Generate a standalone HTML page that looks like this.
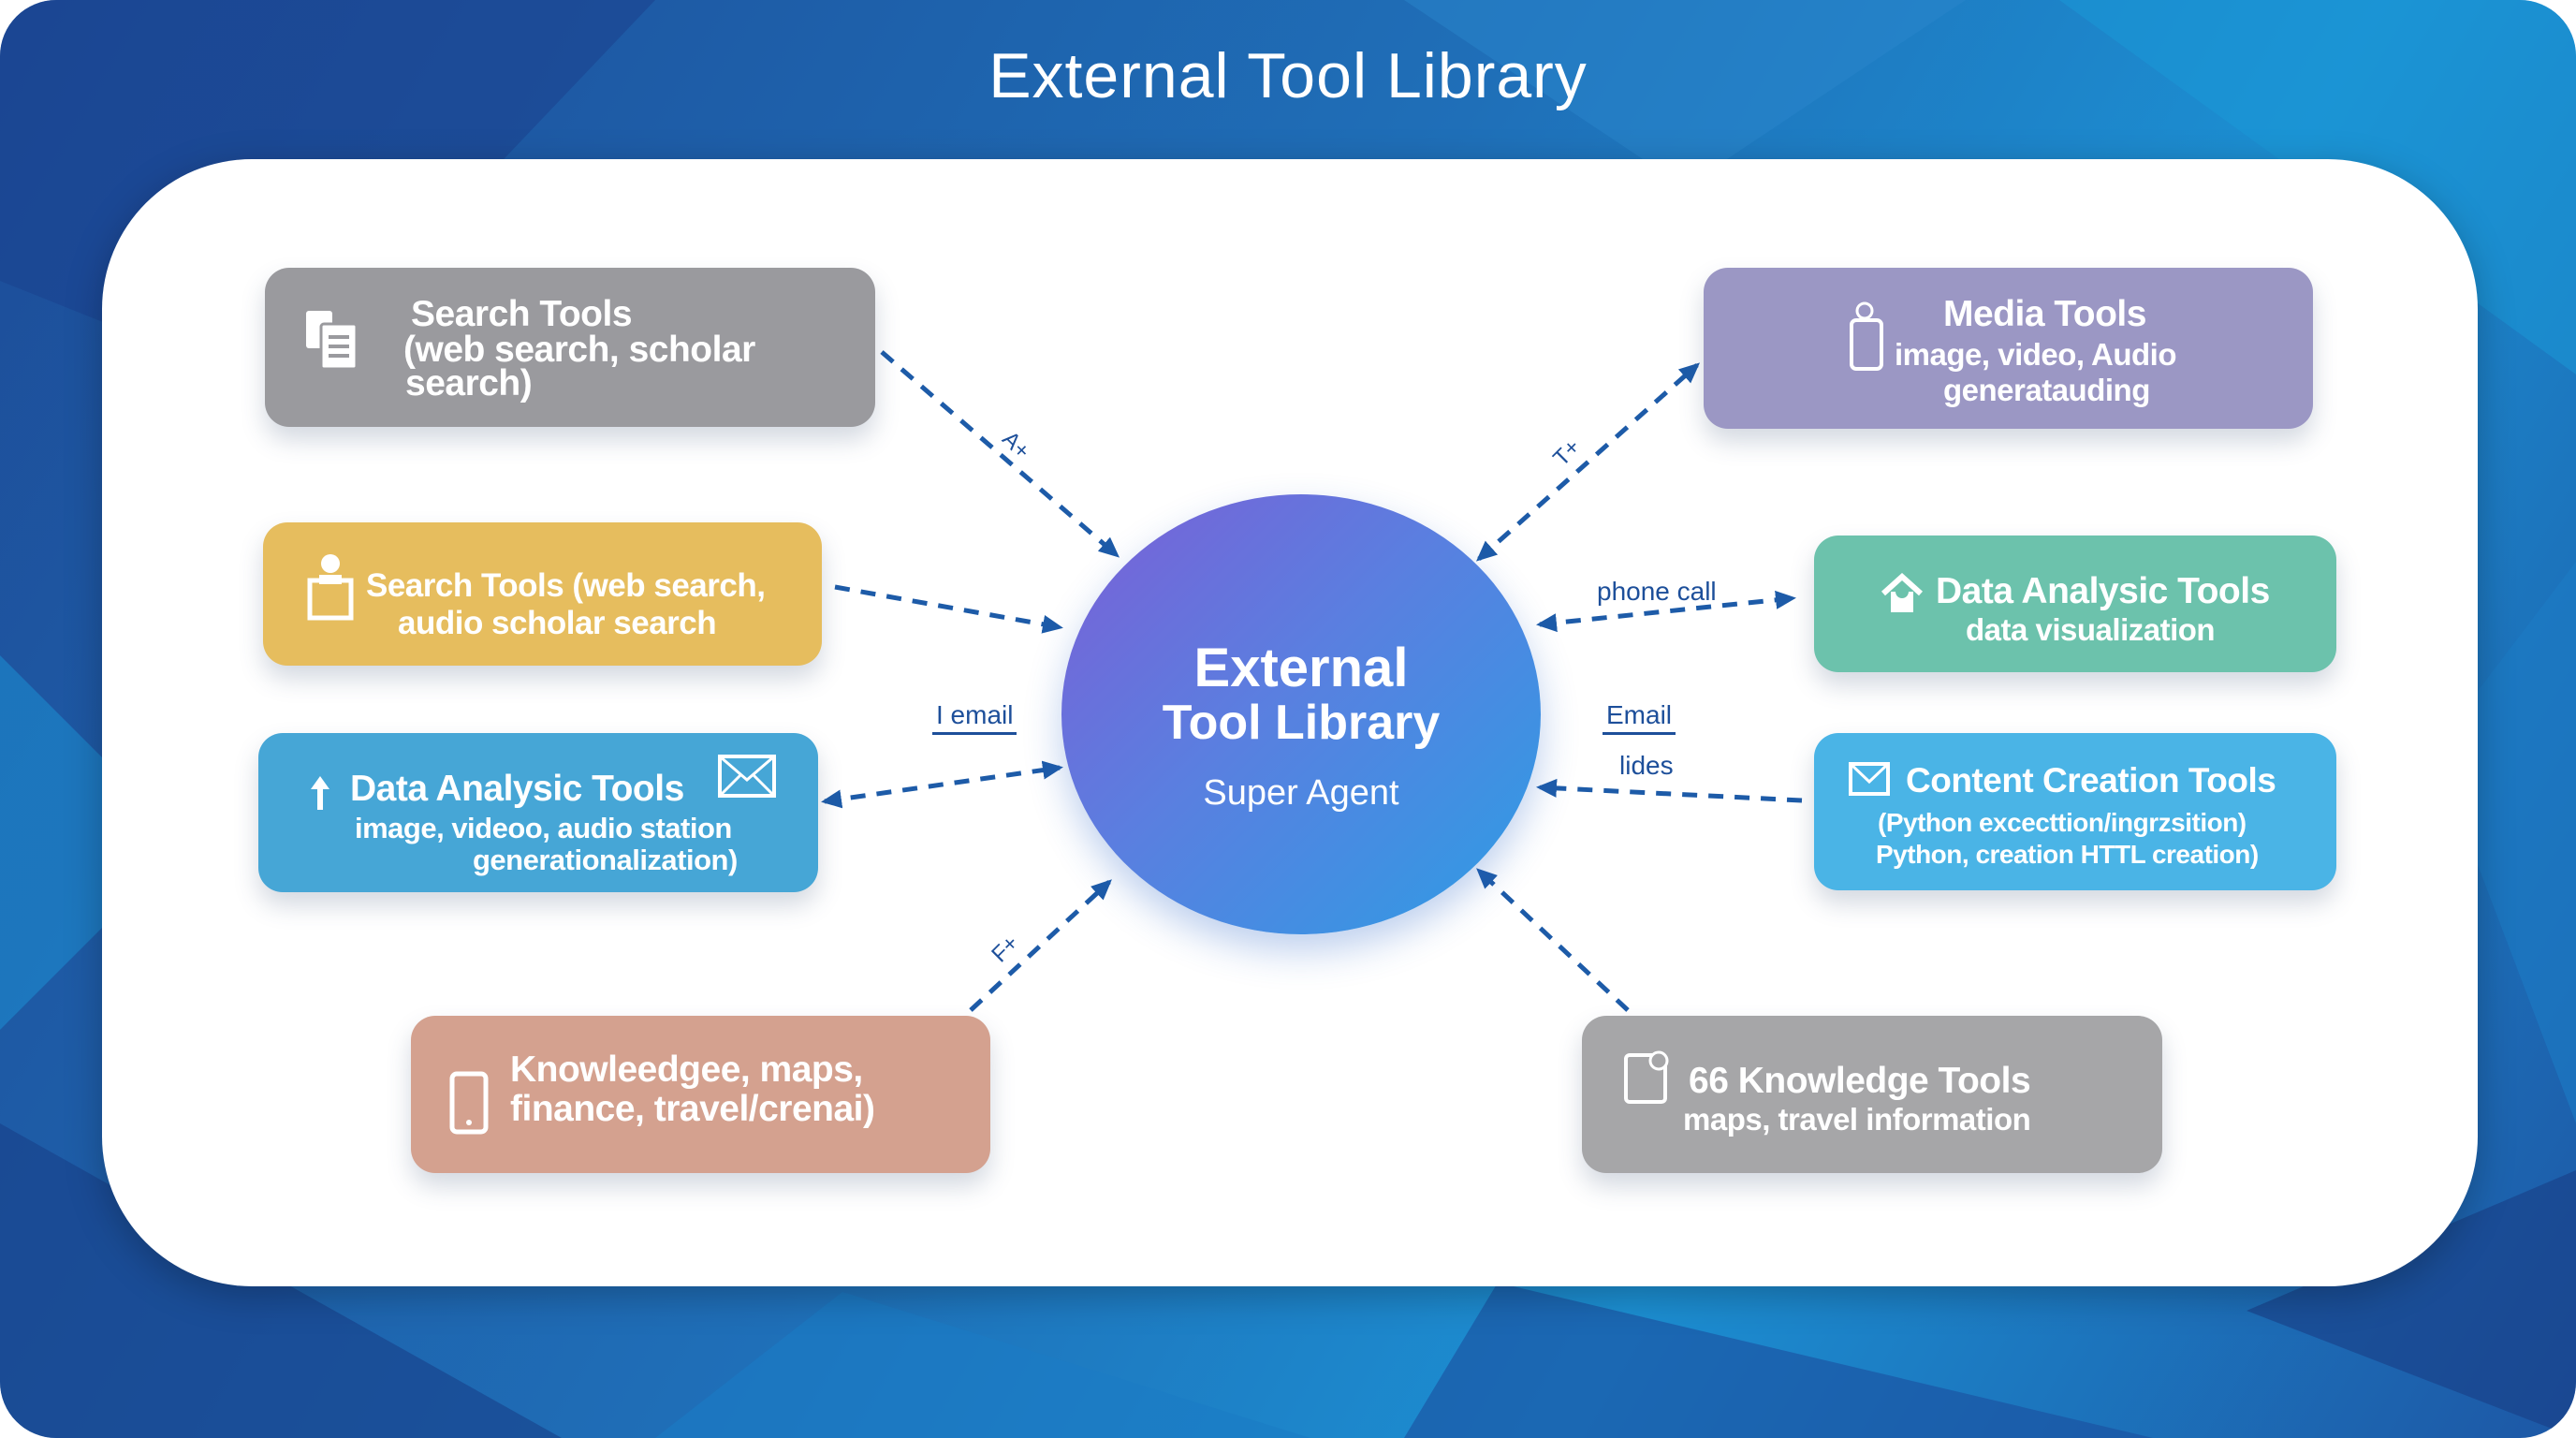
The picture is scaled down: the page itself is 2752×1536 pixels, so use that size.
<!DOCTYPE html>
<html><head><meta charset="utf-8">
<style>
html,body{margin:0;padding:0;}
body{width:2752px;height:1536px;position:relative;overflow:hidden;background:#fff;font-family:"Liberation Sans",sans-serif;}
#bg{position:absolute;left:0;top:0;width:2752px;height:1536px;border-radius:60px;overflow:hidden;background:linear-gradient(120deg,#1d4c98 0%,#1f6fb8 45%,#1c8fd2 70%,#1d57a5 100%);}
.title{position:absolute;left:0;width:2752px;top:42px;text-align:center;color:#fff;font-size:68px;font-weight:normal;letter-spacing:1px;}
.panel{position:absolute;left:109px;top:170px;width:2538px;height:1204px;background:#fff;border-radius:160px;box-shadow:0 10px 40px rgba(0,0,0,.25);}
.box{position:absolute;border-radius:26px;color:#fff;box-shadow:0 14px 26px rgba(60,80,120,.22);font-weight:bold;letter-spacing:-0.5px;}
.t{position:absolute;white-space:nowrap;}
.big{font-size:39px;}
.sm{font-size:33px;}
.circle{position:absolute;left:1134px;top:528px;width:512px;height:470px;border-radius:50%;background:linear-gradient(135deg,#7b5fd6 0%,#5a7fe0 45%,#2d9de4 100%);box-shadow:0 18px 40px rgba(40,100,200,.3);color:#fff;text-align:center;}
.lbl{position:absolute;color:#1d4f9a;font-size:28px;white-space:nowrap;}
</style></head><body>
<div id="bg">
<svg width="2752" height="1536" style="position:absolute;left:0;top:0">
<polygon points="0,0 700,0 300,420 0,300" fill="#1a4390" opacity=".6"/>
<polygon points="1500,0 2100,0 1800,200" fill="#2a86cc" opacity=".5"/>
<polygon points="2200,0 2752,0 2752,400" fill="#1a9ad8" opacity=".5"/>
<polygon points="0,700 200,900 0,1100" fill="#1c8bcf" opacity=".6"/>
<polygon points="0,1200 600,1536 0,1536" fill="#173f88" opacity=".6"/>
<polygon points="900,1380 1400,1536 700,1536" fill="#1b7cc4" opacity=".6"/>
<polygon points="1600,1370 2300,1536 1500,1536" fill="#1a4f9e" opacity=".6"/>
<polygon points="2600,800 2752,600 2752,1200" fill="#1c7cc4" opacity=".6"/>
<polygon points="2400,1400 2752,1250 2752,1536" fill="#193e86" opacity=".6"/>
</svg>
</div>
<div class="title">External Tool Library</div>
<div class="panel"></div>

<svg width="2752" height="1536" style="position:absolute;left:0;top:0">
<defs>
<marker id="a" markerWidth="24" markerHeight="24" refX="18" refY="12" orient="auto-start-reverse" markerUnits="userSpaceOnUse" viewBox="0 0 24 24"><path d="M0,2 L22,12 L0,22 z" fill="#1d5ba8"/></marker>
</defs>
<g stroke="#1d5ba8" stroke-width="5" stroke-dasharray="16,12" fill="none">
<line x1="942" y1="376" x2="1193" y2="593" marker-end="url(#a)"/>
<line x1="892" y1="627" x2="1132" y2="670" marker-end="url(#a)"/>
<line x1="881" y1="856" x2="1132" y2="820" marker-end="url(#a)" marker-start="url(#a)"/>
<line x1="1037" y1="1079" x2="1185" y2="942" marker-end="url(#a)"/>
<line x1="1580" y1="597" x2="1813" y2="390" marker-end="url(#a)" marker-start="url(#a)"/>
<line x1="1645" y1="667" x2="1915" y2="639" marker-end="url(#a)" marker-start="url(#a)"/>
<line x1="1925" y1="855" x2="1645" y2="841" marker-end="url(#a)"/>
<line x1="1739" y1="1079" x2="1580" y2="930" marker-end="url(#a)"/>
</g>
</svg>

<div class="lbl" style="left:1070px;top:462px;transform:rotate(45deg);font-size:24px">A+</div>
<div class="lbl" style="left:1660px;top:470px;transform:rotate(-45deg);font-size:24px">T+</div>
<div class="lbl" style="left:1060px;top:1000px;transform:rotate(-45deg);font-size:24px">F+</div>
<div class="lbl" style="left:996px;top:748px;border-bottom:3px solid #1d4f9a;padding:0 4px 2px">I email</div>
<div class="lbl" style="left:1706px;top:616px">phone call</div>
<div class="lbl" style="left:1712px;top:748px;border-bottom:3px solid #1d4f9a;padding:0 4px 2px">Email</div>
<div class="lbl" style="left:1730px;top:802px">lides</div>

<div class="circle">
<div class="t" style="left:0;width:512px;top:152px;font-size:58px;font-weight:bold">External</div>
<div class="t" style="left:0;width:512px;top:214px;font-size:52px;font-weight:bold">Tool Library</div>
<div class="t" style="left:0;width:512px;top:298px;font-size:38px">Super Agent</div>
</div>

<!-- Box1 -->
<div class="box" style="left:283px;top:286px;width:652px;height:170px;background:#9a9a9e">
<svg style="position:absolute;left:42px;top:42px" width="60" height="70"><rect x="2" y="4" width="28" height="40" rx="3" fill="#fff"/><rect x="18" y="18" width="38" height="48" rx="3" fill="#fff" stroke="#9a9a9e" stroke-width="3"/><g stroke="#9a9a9e" stroke-width="4"><line x1="26" y1="32" x2="48" y2="32"/><line x1="26" y1="42" x2="48" y2="42"/><line x1="26" y1="52" x2="48" y2="52"/></g></svg>
<div class="t big" style="left:156px;top:28px">Search Tools</div>
<div class="t big" style="left:148px;top:66px">(web search, scholar</div>
<div class="t big" style="left:150px;top:102px">search)</div>
</div>
<!-- Box2 -->
<div class="box" style="left:281px;top:558px;width:597px;height:153px;background:#e6bd5e">
<svg style="position:absolute;left:42px;top:32px" width="60" height="80"><circle cx="30" cy="12" r="10" fill="#fff"/><path d="M8,30 L52,30 L52,70 L8,70 Z" fill="none" stroke="#fff" stroke-width="5"/><rect x="18" y="24" width="24" height="10" fill="#fff"/></svg>
<div class="t" style="left:110px;top:48px;font-size:35px">Search Tools (web search,</div>
<div class="t" style="left:144px;top:88px;font-size:35px">audio scholar search</div>
</div>
<!-- Box3 -->
<div class="box" style="left:276px;top:783px;width:598px;height:170px;background:#46a6d6">
<svg style="position:absolute;left:54px;top:44px" width="24" height="40"><path d="M12,2 L22,16 L15,16 L15,38 L9,38 L9,16 L2,16 Z" fill="#fff"/></svg>
<div class="t big" style="left:98px;top:38px">Data Analysic Tools</div>
<svg style="position:absolute;left:490px;top:22px" width="64" height="48"><rect x="3" y="3" width="58" height="42" fill="none" stroke="#fff" stroke-width="4"/><path d="M3,3 L32,28 L61,3 M3,45 L26,22 M61,45 L38,22" fill="none" stroke="#fff" stroke-width="3"/></svg>
<div class="t" style="left:103px;top:84px;font-size:31px">image, videoo, audio station</div>
<div class="t" style="left:229px;top:118px;font-size:31px">generationalization)</div>
</div>
<!-- Box4 -->
<div class="box" style="left:439px;top:1085px;width:619px;height:168px;background:#d4a18f">
<svg style="position:absolute;left:40px;top:58px" width="46" height="72"><rect x="4" y="4" width="36" height="62" rx="5" fill="none" stroke="#fff" stroke-width="5"/><circle cx="22" cy="56" r="3" fill="#fff"/></svg>
<div class="t big" style="left:106px;top:36px">Knowleedgee, maps,</div>
<div class="t big" style="left:106px;top:78px">finance, travel/crenai)</div>
</div>
<!-- Box5 -->
<div class="box" style="left:1820px;top:286px;width:651px;height:172px;background:#9b97c4">
<svg style="position:absolute;left:154px;top:36px" width="46" height="80"><circle cx="18" cy="10" r="8" fill="none" stroke="#fff" stroke-width="3"/><rect x="4" y="20" width="32" height="52" rx="5" fill="none" stroke="#fff" stroke-width="4"/></svg>
<div class="t big" style="left:256px;top:28px">Media Tools</div>
<div class="t sm" style="left:204px;top:74px">image, video, Audio</div>
<div class="t sm" style="left:256px;top:112px">generatauding</div>
</div>
<!-- Box6 -->
<div class="box" style="left:1938px;top:572px;width:558px;height:146px;background:#6cc2ac">
<svg style="position:absolute;left:70px;top:40px" width="48" height="44"><path d="M4,22 L24,4 L44,22" fill="none" stroke="#fff" stroke-width="6"/><rect x="12" y="20" width="24" height="22" fill="#fff"/><circle cx="24" cy="20" r="7" fill="#6cc2ac"/></svg>
<div class="t big" style="left:130px;top:38px">Data Analysic Tools</div>
<div class="t sm" style="left:162px;top:82px">data visualization</div>
</div>
<!-- Box7 -->
<div class="box" style="left:1938px;top:783px;width:558px;height:168px;background:#4ab4e6">
<svg style="position:absolute;left:36px;top:30px" width="46" height="38"><rect x="3" y="3" width="40" height="32" fill="none" stroke="#fff" stroke-width="4"/><path d="M3,3 L23,22 L43,3" fill="none" stroke="#fff" stroke-width="3"/></svg>
<div class="t" style="left:98px;top:30px;font-size:37px">Content Creation Tools</div>
<div class="t" style="left:68px;top:80px;font-size:28px">(Python excecttion/ingrzsition)</div>
<div class="t" style="left:66px;top:114px;font-size:28px">Python, creation HTTL creation)</div>
</div>
<!-- Box8 -->
<div class="box" style="left:1690px;top:1085px;width:620px;height:168px;background:#a6a6a8">
<svg style="position:absolute;left:44px;top:36px" width="54" height="62"><rect x="3" y="6" width="42" height="50" rx="4" fill="none" stroke="#fff" stroke-width="4"/><circle cx="38" cy="12" r="9" fill="#a6a6a8" stroke="#fff" stroke-width="3"/></svg>
<div class="t big" style="left:114px;top:48px">66 Knowledge Tools</div>
<div class="t sm" style="left:108px;top:92px">maps, travel information</div>
</div>
</body></html>
